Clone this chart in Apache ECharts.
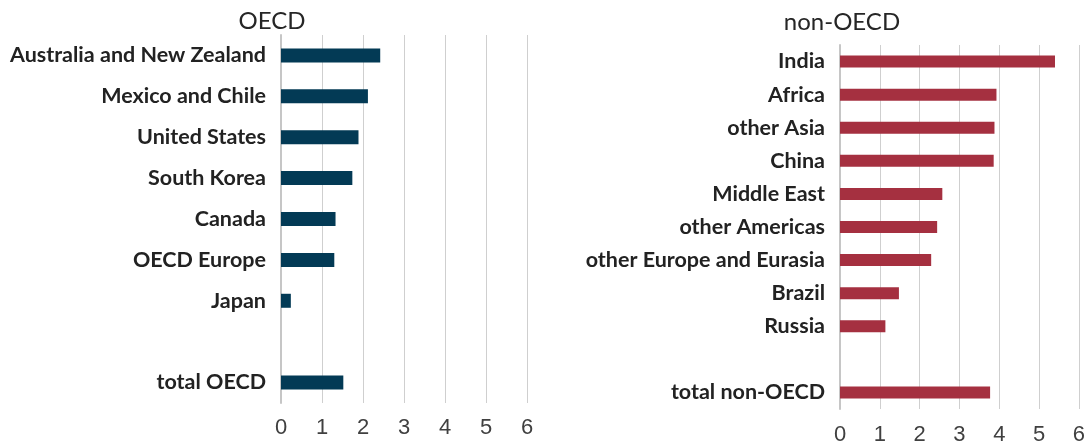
<!DOCTYPE html>
<html><head><meta charset="utf-8">
<script src="https://cdn.jsdelivr.net/npm/echarts@6/dist/echarts.min.js"></script>
<style>html,body{margin:0;padding:0;background:#fff}#c{width:1088px;height:446px}</style>
</head><body><div id="c"></div>
<script>
const oecdCategories = ['Australia and New Zealand','Mexico and Chile','United States','South Korea','Canada','OECD Europe','Japan','','total OECD'];
const oecdValues = [2.42, 2.12, 1.89, 1.74, 1.33, 1.30, 0.24, null, 1.52];
const nonOecdCategories = ['India','Africa','other Asia','China','Middle East','other Americas','other Europe and Eurasia','Brazil','Russia','','total non-OECD'];
const nonOecdValues = [5.40, 3.93, 3.88, 3.86, 2.57, 2.44, 2.29, 1.48, 1.14, null, 3.77];
const xTicks = [0, 1, 2, 3, 4, 5, 6];

const chart = echarts.init(document.getElementById('c'));
const labelFont = {fontFamily:'Lato', fontWeight:'bold', fontSize:21.5, color:'#222222'};
const tickFont = {fontFamily:'Liberation Sans', fontSize:22, color:'#404040'};
function xAxis(gi, margin){
  return {type:'value', gridIndex:gi, min:xTicks[0], max:xTicks[xTicks.length-1], interval:1,
    axisLine:{show:false}, axisTick:{show:false},
    axisLabel:Object.assign({margin:margin}, tickFont),
    splitLine:{show:true, lineStyle:{color:'#cfcfcf', width:1}}};
}
function yAxis(gi, cats){
  return {type:'category', gridIndex:gi, data:cats, inverse:true,
    axisLine:{show:true, lineStyle:{color:'#c6c6c6', width:2}}, axisTick:{show:false},
    axisLabel:Object.assign({margin:15}, labelFont)};
}
chart.setOption({
  animation:false,
  title:[
    {text:'OECD', left:267, top:16, textAlign:'center', textVerticalAlign:'middle',
     textStyle:{fontFamily:'Lato', fontWeight:'normal', fontSize:24, color:'#262626'}},
    {text:'non-OECD', left:837, top:17, textAlign:'center', textVerticalAlign:'middle',
     textStyle:{fontFamily:'Lato', fontWeight:'normal', fontSize:24, color:'#262626'}}
  ],
  grid:[
    {left:281, width:246, top:35, height:368, containLabel:false},
    {left:840, width:241, top:45, height:366, containLabel:false}
  ],
  xAxis:[xAxis(0, 14), xAxis(1, 15)],
  yAxis:[yAxis(0, oecdCategories), yAxis(1, nonOecdCategories)],
  series:[
    {type:'bar', xAxisIndex:0, yAxisIndex:0, data:oecdValues, barWidth:14,
     itemStyle:{color:'#033a55'}},
    {type:'bar', xAxisIndex:1, yAxisIndex:1, data:nonOecdValues, barWidth:12,
     itemStyle:{color:'#a53040'}}
  ]
});
</script></body></html>
